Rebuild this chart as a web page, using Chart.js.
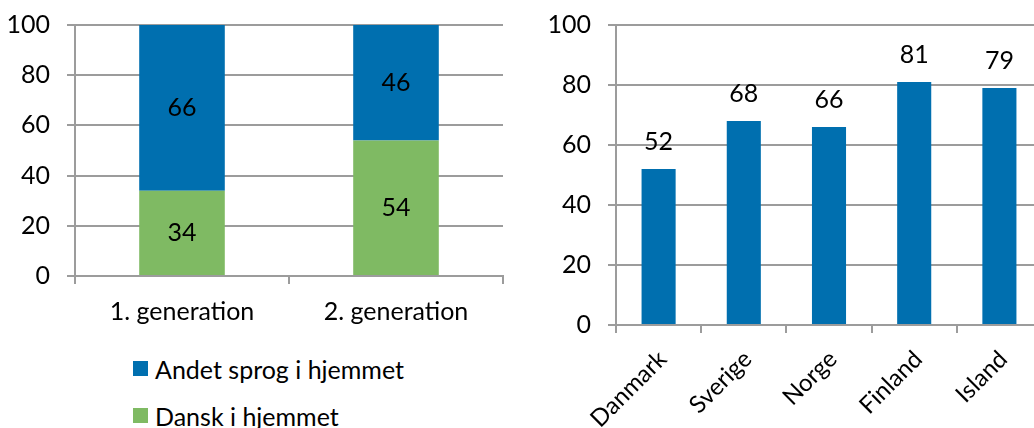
<!doctype html>
<html lang="da">
<head>
<meta charset="utf-8">
<title>Sprog i hjemmet</title>
<script src="https://cdn.jsdelivr.net/npm/chart.js@4.4.1/dist/chart.umd.min.js"></script>
<style>
  html, body { margin: 0; padding: 0; background: #fff; overflow: hidden; }
  body { width: 1034px; height: 428px; position: relative; font-family: Lato, sans-serif; }
  #venstreBoks { position: absolute; left: 0; top: 0; width: 505px; height: 340px; }
  #hoejreBoks { position: absolute; left: 520px; top: 0; width: 522px; height: 428px; }
  #forklaring { position: absolute; left: 133px; top: 345px; font-size: 25px; color: #000; }
  .post { display: flex; align-items: center; height: 47px; white-space: nowrap; }
  .kasse { width: 15px; height: 15px; margin-right: 7px; }
</style>
</head>
<body>
<div id="venstreBoks"><canvas id="venstre"></canvas></div>
<div id="hoejreBoks"><canvas id="hoejre"></canvas></div>
<div id="forklaring"></div>
<script>
// data
const generationer = ['1. generation', '2. generation'];
const danskIHjemmet = [34, 54];
const andetSprog = [66, 46];
const serieNavne = ['Dansk i hjemmet', 'Andet sprog i hjemmet'];

const lande = ['Danmark', 'Sverige', 'Norge', 'Finland', 'Island'];
const andel = [52, 68, 66, 81, 79];

const yMin = 0, yMax = 100, yTrin = 20;

// farver
const blaa = '#006FAF';
const groen = '#7FBA63';
const gitter = '#9C9C9C';
const skrift = { family: 'Lato', size: 25 };

// tal på søjlerne
const vaerdiEtiketter = {
  id: 'vaerdiEtiketter',
  afterDatasetsDraw(chart, args, opts) {
    const ctx = chart.ctx;
    ctx.save();
    ctx.font = '25px Lato';
    ctx.fillStyle = '#000';
    ctx.textAlign = 'center';
    ctx.textBaseline = 'middle';
    chart.data.datasets.forEach((ds, i) => {
      chart.getDatasetMeta(i).data.forEach((bar, j) => {
        const y = opts.inde ? (bar.y + bar.base) / 2 : bar.y - opts.afstand;
        ctx.fillText(ds.data[j], bar.x, y);
      });
    });
    ctx.restore();
  }
};

function akser(stablet, yBredde, xHoejde, xTicks) {
  return {
    x: {
      stacked: stablet,
      grid: { offset: true, drawOnChartArea: false, tickLength: 8, color: gitter, lineWidth: 2 },
      border: { color: gitter, width: 2 },
      ticks: Object.assign({ color: '#000', font: skrift }, xTicks),
      afterFit: s => { s.height = xHoejde; }
    },
    y: {
      stacked: stablet,
      min: yMin, max: yMax,
      ticks: { stepSize: yTrin, color: '#000', font: skrift, padding: 17 },
      grid: { color: gitter, lineWidth: 2, tickLength: 8 },
      border: { color: gitter, width: 2 },
      afterFit: s => { s.width = yBredde; s.paddingTop = 0; s.paddingBottom = 0; }
    }
  };
}

new Chart(document.getElementById('venstre'), {
  type: 'bar',
  data: {
    labels: generationer,
    datasets: [
      { label: serieNavne[0], data: danskIHjemmet, backgroundColor: groen },
      { label: serieNavne[1], data: andetSprog, backgroundColor: blaa }
    ]
  },
  options: {
    responsive: true,
    maintainAspectRatio: false,
    animation: false,
    layout: { padding: { top: 25, right: 2, left: 0, bottom: 0 } },
    datasets: { bar: { barPercentage: 0.4, categoryPercentage: 1 } },
    plugins: { legend: { display: false }, tooltip: { enabled: false }, vaerdiEtiketter: { inde: true } },
    scales: akser(true, 75, 64, { padding: 13, maxRotation: 0 })
  },
  plugins: [vaerdiEtiketter]
});

new Chart(document.getElementById('hoejre'), {
  type: 'bar',
  data: {
    labels: lande,
    datasets: [{ label: 'Andel', data: andel, backgroundColor: blaa }]
  },
  options: {
    responsive: true,
    maintainAspectRatio: false,
    animation: false,
    layout: { padding: { top: 25, right: 0, left: 0, bottom: 0 } },
    datasets: { bar: { barPercentage: 0.4, categoryPercentage: 1 } },
    plugins: { legend: { display: false }, tooltip: { enabled: false }, vaerdiEtiketter: { inde: false, afstand: 27 } },
    scales: akser(false, 96, 103, { font: { family: 'Lato', size: 24 }, padding: 12, labelOffset: 4, minRotation: 45, maxRotation: 45 })
  },
  plugins: [vaerdiEtiketter]
});

// forklaring under venstre figur, øverste serie først
const forklaring = document.getElementById('forklaring');
[[serieNavne[1], blaa], [serieNavne[0], groen]].forEach(([navn, farve]) => {
  const post = document.createElement('div');
  post.className = 'post';
  post.innerHTML = '<span class="kasse" style="background:' + farve + '"></span><span>' + navn + '</span>';
  forklaring.appendChild(post);
});
</script>
</body>
</html>
